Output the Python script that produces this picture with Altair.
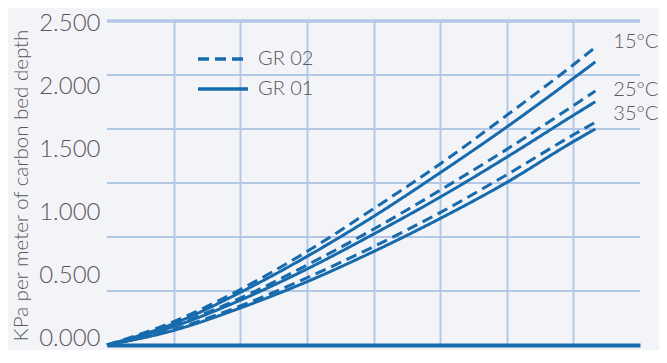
import altair as alt
import pandas as pd

# x positions (in grid units of the unlabeled horizontal axis)
x_vals = [0, 1, 2, 3, 4, 5, 6, 7, 7.33]

gr02_15 = [0, 0.186, 0.441, 0.743, 1.084, 1.440, 1.827, 2.229, 2.368]
gr01_15 = [0, 0.170, 0.418, 0.704, 1.022, 1.370, 1.734, 2.121, 2.252]
gr02_25 = [0, 0.155, 0.372, 0.635, 0.921, 1.231, 1.556, 1.904, 2.020]
gr01_25 = [0, 0.147, 0.356, 0.604, 0.882, 1.176, 1.494, 1.827, 1.935]
gr02_35 = [0, 0.124, 0.310, 0.534, 0.782, 1.053, 1.354, 1.672, 1.772]
gr01_35 = [0, 0.116, 0.294, 0.503, 0.743, 1.006, 1.293, 1.618, 1.718]

series = [
    ("GR 02", "15°C", gr02_15),
    ("GR 01", "15°C", gr01_15),
    ("GR 02", "25°C", gr02_25),
    ("GR 01", "25°C", gr01_25),
    ("GR 02", "35°C", gr02_35),
    ("GR 01", "35°C", gr01_35),
]

y_ticks = [0, 0.5, 1.0, 1.5, 2.0, 2.5]
y_grid = [0.4295, 0.859, 1.2885, 1.718, 2.1475, 2.577]
y_grid_w = [2, 2, 2, 2, 2, 3.5]
x_grid = [1, 2, 3, 4, 5, 6, 7]

temp_labels = ["15°C", "25°C", "35°C"]
temp_label_y = [2.407, 2.030, 1.835]
temp_label_x = [7.33, 7.33, 7.33]

Y_MAX = 2.577
BLUE = "#176bad"
GRID = "#b3c8e6"
TEXT = "#585858"
FONT = "Lato"

rows = []
for grade, temp, vals in series:
    for xv, yv in zip(x_vals, vals):
        rows.append({"x": xv, "y": yv, "grade": grade, "temp": temp, "key": grade + temp})
df = pd.DataFrame(rows)

grid_df = pd.DataFrame({"y": y_grid, "w": y_grid_w})
lab_df = pd.DataFrame({"x": temp_label_x, "y": temp_label_y, "t": temp_labels})

xs = alt.Scale(domain=[0, 8], nice=False, zero=True)
ys = alt.Scale(domain=[0, Y_MAX], nice=False, zero=True)

hgrid = alt.Chart(grid_df).mark_rule(color=GRID).encode(
    y=alt.Y("y:Q", scale=ys,
            axis=alt.Axis(values=y_ticks, format=".3f", grid=False, domain=False, ticks=False,
                          labelFontSize=24, labelColor=TEXT, labelFont=FONT, labelFontWeight=300,
                          labelBaseline="alphabetic", labelPadding=7,
                          title="KPa per meter of carbon bed depth",
                          titleFontSize=20.5, titleFont=FONT, titleFontWeight=300,
                          titleColor=TEXT, titleX=-86, titleY=164, titleAngle=270,
                          titleAlign="center", titleBaseline="middle")),
    strokeWidth=alt.StrokeWidth("w:Q", scale=None),
)

lines = alt.Chart(df).mark_line(color=BLUE, strokeWidth=3, interpolate="monotone").encode(
    x=alt.X("x:Q", scale=xs,
            axis=alt.Axis(values=x_grid, grid=True, gridColor=GRID, gridWidth=2,
                          labels=False, ticks=False, title=None,
                          domainColor=BLUE, domainWidth=4)),
    y=alt.Y("y:Q", scale=ys),
    detail="key:N",
    strokeDash=alt.StrokeDash(
        "grade:N",
        scale=alt.Scale(domain=["GR 02", "GR 01"], range=[[11, 6], [1, 0]]),
        legend=alt.Legend(title=None, orient="none", legendX=89, legendY=23,
                          symbolType="stroke", symbolSize=2500, symbolStrokeWidth=3.5,
                          symbolStrokeColor=BLUE, labelFontSize=20, labelFont=FONT,
                          labelFontWeight=300,
                          labelColor=TEXT, labelOffset=8, clipHeight=30, rowPadding=0,
                          padding=0),
    ),
)

texts = alt.Chart(lab_df).mark_text(align="left", baseline="middle", dx=18,
                                    fontSize=20, font=FONT, fontWeight=300, color=TEXT).encode(
    x=alt.X("x:Q", scale=xs),
    y=alt.Y("y:Q", scale=ys),
    text="t:N",
)

chart = alt.layer(hgrid, lines, texts).properties(
    width=533, height=324,
    autosize=alt.AutoSizeParams(type="none"),
    padding={"left": 99, "top": 13, "right": 19, "bottom": 5},
    background="#f3f4f8",
).configure_view(stroke=None)

chart.save("out.html", embed_options={"renderer": "svg", "actions": False})
